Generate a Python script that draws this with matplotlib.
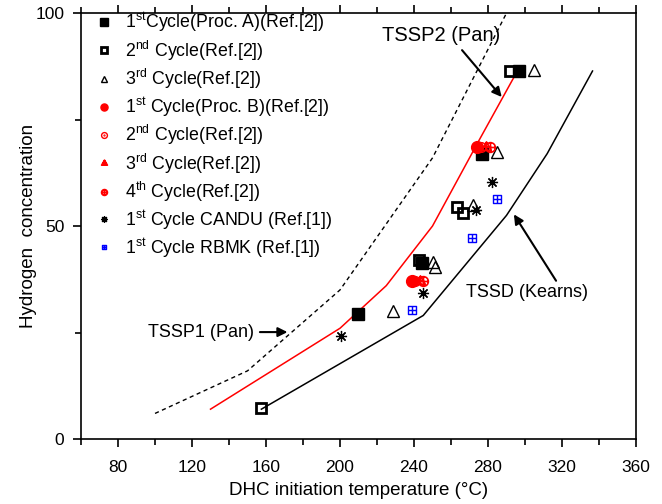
import numpy as np
import matplotlib
matplotlib.use("Agg")
import matplotlib.pyplot as plt
from matplotlib.path import Path

plt.rcParams.update({
    "font.family": "Liberation Sans",
    "mathtext.fontset": "custom",
    "mathtext.rm": "Liberation Sans",
    "mathtext.it": "Liberation Sans:italic",
})

# --- curves ---
tssp_x = [100, 150, 200, 250, 290]          # TSSP (dashed)
tssp_y = [6, 16, 35, 66, 100]
red_x = [130, 200, 225, 250, 275, 296]       # red curve
red_y = [7, 26, 36, 50, 70, 86.5]
tssd_x = [157.5, 245, 290, 312, 336.5]       # TSSD (Kearns)
tssd_y = [7, 29, 52.5, 67, 86.4]

# --- data points ---
c1a_x = [209.5, 244.3, 277, 296.5]
c1a_y = [29.3, 41.3, 67, 86.3]
c2_x = [157.5, 242.5, 263.5, 266.7, 292]
c2_y = [7.3, 42, 54.4, 53, 86.3]
c3_x = [228.5, 250, 251.5, 272, 285, 304.6]
c3_y = [30, 41.5, 40.5, 55, 67.4, 86.6]
c1b_x = [239, 274.3]
c1b_y = [37, 68.5]
r2_x = [240.5, 276]
r2_y = [37, 68.5]
r3_x = [243, 279]
r3_y = [37, 68.5]
r4_x = [245, 281]
r4_y = [37, 68.5]
candu_x = [200.7, 245, 273.7, 282.4]
candu_y = [24.2, 34.3, 53.8, 60.3]
rbmk_x = [239, 271.6, 285]
rbmk_y = [30.3, 47.2, 56.3]

# custom markers
tri = Path([(0, 1), (-0.87, -0.5), (0.87, -0.5), (0, 1)],
           [Path.MOVETO, Path.LINETO, Path.LINETO, Path.CLOSEPOLY])
plus = Path([(0, 1), (0, -0.5), (-0.6, 0.1), (0.6, 0.1)],
            [Path.MOVETO, Path.LINETO, Path.MOVETO, Path.LINETO])
tri_plus = Path.make_compound_path(tri, plus)
circ = Path.unit_circle()
cplus = Path([(0, 1), (0, -1), (-1, 0), (1, 0)],
             [Path.MOVETO, Path.LINETO, Path.MOVETO, Path.LINETO])
circ_plus = Path.make_compound_path(circ, cplus)
dot = Path.circle((0, 0), 0.15)
circ_dot = Path.make_compound_path(circ, dot)
sq = Path([(-1, -1), (1, -1), (1, 1), (-1, 1), (-1, -1)],
          [Path.MOVETO, Path.LINETO, Path.LINETO, Path.LINETO, Path.CLOSEPOLY])
sq_plus = Path.make_compound_path(sq, cplus)

fig = plt.figure(figsize=(6.62, 5.04), dpi=100)
ax = fig.add_axes([0.1224, 0.129, 0.8383, 0.845])

ax.plot(tssp_x, tssp_y, color='k', linestyle=(0, (3, 2.5)), linewidth=1.0)
ax.plot(red_x, red_y, color='red', linewidth=1.1)
ax.plot(tssd_x, tssd_y, color='k', linewidth=1.1)

ax.plot(c1a_x, c1a_y, 's', color='k', ms=8.5, linestyle='none',
        label=r'1$^{\rm st}$Cycle(Proc. A)(Ref.[2])')
ax.plot(c2_x, c2_y, 's', mfc='none', mec='k', mew=2.0, ms=7.5, linestyle='none',
        label=r'2$^{\rm nd}$ Cycle(Ref.[2])')
ax.plot(c3_x, c3_y, '^', mfc='none', mec='k', mew=1.0, ms=8, linestyle='none',
        label=r'3$^{\rm rd}$ Cycle(Ref.[2])')
ax.plot(c1b_x, c1b_y, 'o', color='red', ms=8.5, linestyle='none',
        label=r'1$^{\rm st}$ Cycle(Proc. B)(Ref.[2])')
ax.plot(r2_x, r2_y, marker=circ_dot, mfc='none', mec='red', mew=1.0, ms=7,
        linestyle='none', label=r'2$^{\rm nd}$ Cycle(Ref.[2])')
ax.plot(r3_x, r3_y, marker=tri_plus, mfc='none', mec='red', mew=1.2, ms=8,
        linestyle='none', label=r'3$^{\rm rd}$ Cycle(Ref.[2])')
ax.plot(r4_x, r4_y, marker=circ_plus, mfc='none', mec='red', mew=1.2, ms=7,
        linestyle='none', label=r'4$^{\rm th}$ Cycle(Ref.[2])')
ax.plot(candu_x, candu_y, marker=(8, 2, 0), color='k', mew=0.9, ms=8,
        linestyle='none', label=r'1$^{\rm st}$ Cycle CANDU (Ref.[1])')
ax.plot(rbmk_x, rbmk_y, marker=sq_plus, mfc='none', mec='blue', mew=1.0, ms=6,
        linestyle='none', label=r'1$^{\rm st}$ Cycle RBMK (Ref.[1])')

# annotations
arrow = dict(arrowstyle='-|>', color='k', lw=1.5, mutation_scale=14)
ax.text(254.8, 94.8, 'TSSP2 (Pan)', fontsize=14.5, ha='center', va='center')
ax.annotate('', xy=(288.4, 79.8), xytext=(265, 91.8), arrowprops=arrow)
ax.text(301.3, 34.3, 'TSSD (Kearns)', fontsize=13, ha='center', va='center')
ax.annotate('', xy=(293.2, 53.3), xytext=(317.6, 36.6), arrowprops=arrow)
ax.text(153.6, 25.0, 'TSSP1 (Pan)', fontsize=13, ha='right', va='center')
ax.annotate('', xy=(173.1, 25.1), xytext=(155.2, 25.1), arrowprops=arrow)

ax.set_xlim(60, 360)
ax.set_ylim(0, 100)
ax.set_xticks(np.arange(80, 361, 40))
ax.set_xticks(np.arange(60, 361, 20), minor=True)
ax.set_yticks([0, 50, 100])
ax.set_yticks([25, 75], minor=True)
for s in ax.spines.values():
    s.set_linewidth(1.2)
ax.tick_params(which='major', direction='out', length=6, width=1.2, labelsize=12.5)
ax.tick_params(which='minor', direction='out', length=4, width=1.2)
ax.tick_params(axis='x', which='both', top=True, labeltop=False)
ax.tick_params(axis='x', which='major', pad=9)
ax.tick_params(axis='y', which='major', pad=6)

ax.set_xlabel('DHC initiation temperature (°C)', fontsize=13.5, labelpad=5)
ax.set_ylabel('Hydrogen  concentration', fontsize=13.5, labelpad=-1)

ax.legend(loc='upper left', bbox_to_anchor=(0.0, 1.035), frameon=False,
          fontsize=12.8, markerscale=0.6, handlelength=1.2, handletextpad=0.6,
          labelspacing=0.24, borderaxespad=0.3)

fig.savefig('out.png', dpi=100)
